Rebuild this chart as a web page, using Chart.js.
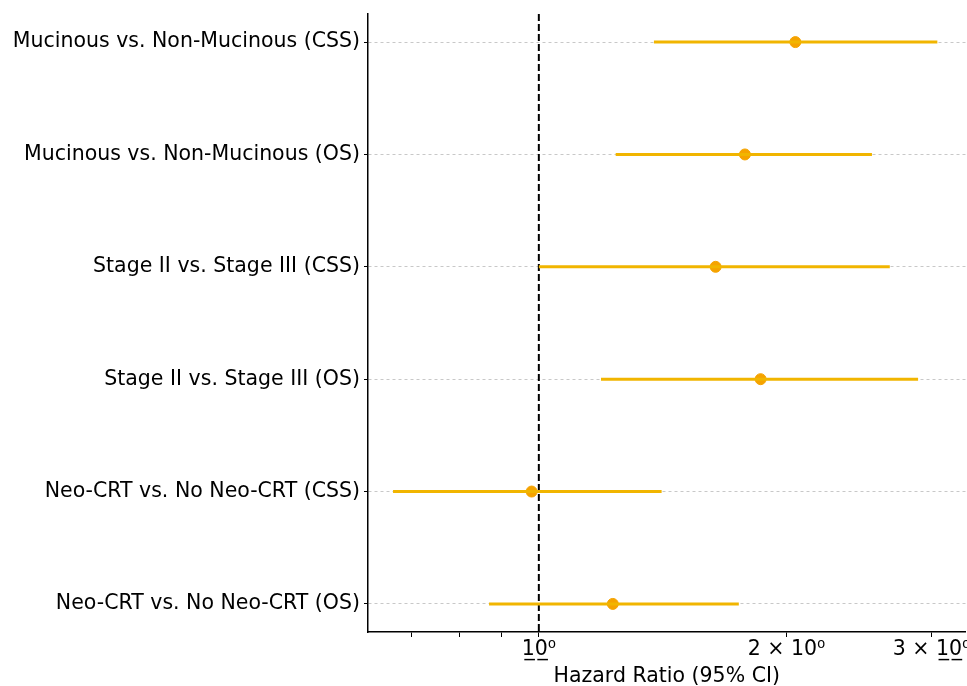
<!DOCTYPE html>
<html>
<head>
<meta charset="utf-8">
<script src="https://cdn.jsdelivr.net/npm/chart.js@4"></script>
<style>
  html, body { margin: 0; padding: 0; background: #fff; overflow: hidden; }
  #wrap { width: 972px; height: 686px; }
</style>
</head>
<body>
<div id="wrap"><canvas id="chart"></canvas></div>
<script>
const labels = [
  'Mucinous vs. Non-Mucinous (CSS)',
  'Mucinous vs. Non-Mucinous (OS)',
  'Stage II vs. Stage III (CSS)',
  'Stage II vs. Stage III (OS)',
  'Neo-CRT vs. No Neo-CRT (CSS)',
  'Neo-CRT vs. No Neo-CRT (OS)'
];
const hr = [2.05, 1.78, 1.64, 1.86, 0.98, 1.23];
const ciLow = [1.38, 1.24, 1.00, 1.19, 0.665, 0.87];
const ciHigh = [3.05, 2.54, 2.67, 2.89, 1.41, 1.75];

const xTicks = [0.7, 0.8, 0.9, 1, 2, 3];
const xTickLabels = { 1: '1\u03320\u0332\u2070', 2: '2 \u00d7 10\u2070', 3: '3 \u00d7 1\u03320\u0332\u2070' };

const lineColor = '#F1B500';
const pointColor = '#F5A300';
const font = { family: "'DejaVu Sans', sans-serif", size: 20.5 };

const datasets = [];
labels.forEach((name, i) => {
  datasets.push({
    type: 'line',
    data: [{ x: ciLow[i], y: i }, { x: ciHigh[i], y: i }],
    borderColor: lineColor,
    borderWidth: 3,
    pointRadius: 0
  });
});
datasets.push({
  type: 'scatter',
  data: hr.map((v, i) => ({ x: v, y: i })),
  backgroundColor: pointColor,
  borderColor: pointColor,
  pointRadius: 5.5
});
// reference line at HR = 1
datasets.push({
  type: 'line',
  data: [{ x: 1, y: -0.25 }, { x: 1, y: 5.25 }],
  borderColor: '#000',
  borderWidth: 2,
  borderDash: [7, 3],
  pointRadius: 0
});

const ctx = document.getElementById('chart');
const myChart = new Chart(ctx, {
  type: 'scatter',
  data: { datasets: datasets },
  options: {
    responsive: true,
    maintainAspectRatio: false,
    animation: false,
    layout: { padding: { top: 14, right: 0, left: 0, bottom: 0 } },
    plugins: { legend: { display: false }, tooltip: { enabled: false } },
    scales: {
      x: {
        type: 'logarithmic',
        bounds: 'data',
        min: 0.62,
        max: 3.3,
        afterBuildTicks: axis => { axis.ticks = xTicks.map(v => ({ value: v })); },
        afterFit: axis => { axis.height = 54; axis.paddingRight = 0; axis.paddingLeft = 0; },
        ticks: {
          autoSkip: false,
          maxRotation: 0,
          color: '#000',
          font: font,
          padding: 0,
          callback: v => xTickLabels[v] || ''
        },
        grid: { drawOnChartArea: false, drawTicks: true, tickLength: 5, tickColor: '#000', tickWidth: 1 },
        border: { color: '#000', width: 1.5 },
        title: { display: true, text: 'Hazard Ratio (95% CI)', color: '#000', font: font, padding: { top: 0, bottom: -3 } }
      },
      y: {
        type: 'linear',
        reverse: true,
        min: -0.25,
        max: 5.25,
        afterBuildTicks: axis => { axis.ticks = labels.map((l, i) => ({ value: i })); },
        afterFit: axis => { axis.width = 368; axis.paddingTop = 0; axis.paddingBottom = 0; },
        ticks: {
          color: '#000',
          font: font,
          padding: 4,
          callback: v => labels[v]
        },
        grid: { color: '#c8c8c8', lineWidth: 1, drawTicks: true, tickLength: 4, tickColor: '#000', tickBorderDash: [] },
        border: { color: '#000', width: 1.5, dash: [3, 3] }
      }
    }
  }
});
</script>
</body>
</html>
